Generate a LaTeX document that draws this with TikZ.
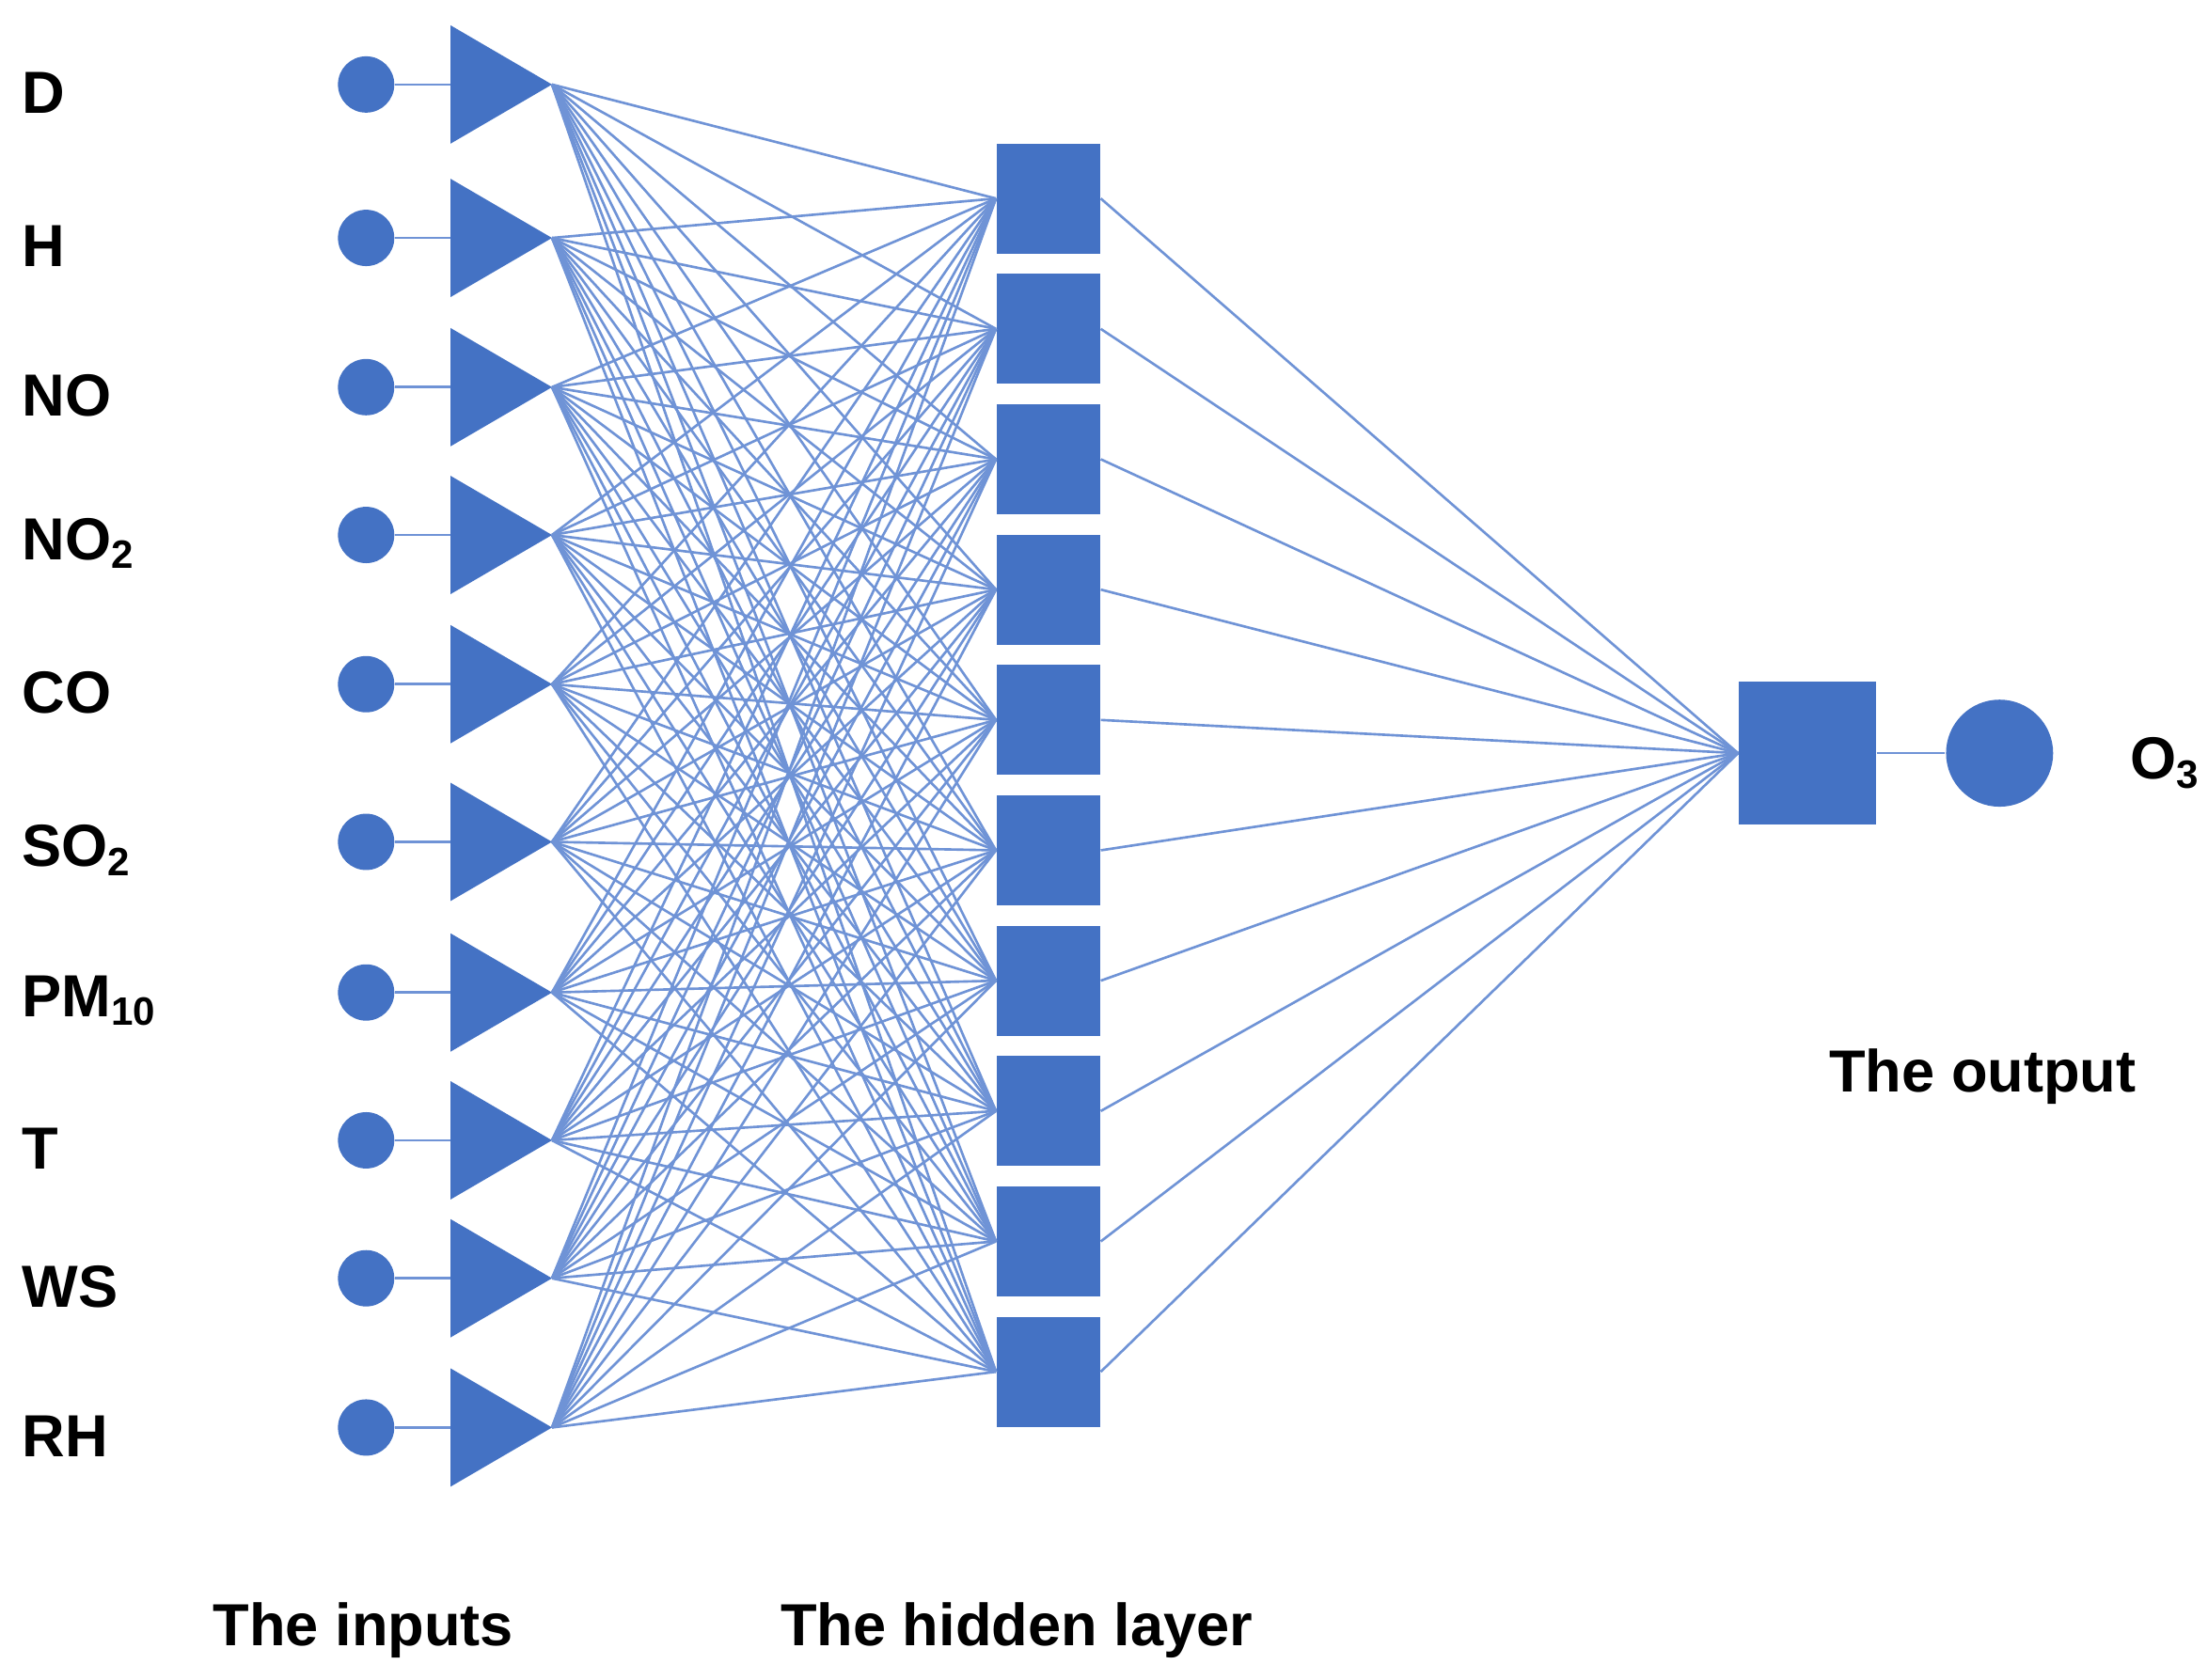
\documentclass[tikz,border=0pt]{standalone}
\usepackage{fontspec}
\setmainfont{Liberation Sans}
\usetikzlibrary{positioning}
\definecolor{netblue}{HTML}{4472C4}
\definecolor{wireblue}{HTML}{6F93D6}
\begin{document}
\begin{tikzpicture}[x=0.01cm,y=-0.01cm]
		\tikzstyle{inp}=[circle,minimum size=0.4cm,inner sep=0,fill=netblue]
		\tikzstyle{hid}=[rectangle,minimum width=0.73cm,minimum height=0.78cm,inner sep=0,fill=netblue]
		\tikzstyle{wire}=[wireblue,line width=0.5pt]
		\tikzstyle{lab}=[font=\bfseries\large,anchor=west,inner sep=0]
		\fill[white] (0,0) rectangle (1568,1193);
		
		\foreach \n/\y/\t in {1/66/D,2/175/H,3/281/NO,4/386/NO\textsubscript{2},5/492/CO,6/604/SO\textsubscript{2},7/711/PM\textsubscript{10},8/816/T,9/914/WS,10/1020/RH} {
			\node [lab] (l\n) at (15,\y) {\t};
			\node [inp] (i\n) at (260,\y-6) {};
			\coordinate (t\n) at (392,\y-6);
			\fill[netblue] (320,\y-48) -- (t\n) -- (320,\y+36) -- cycle;
			\draw [wire] (i\n) -- (320,\y-6);
		}
		\foreach \k in {1,...,10}
			\node [hid] (h\k) at (744.5,{141+92.6*(\k-1)}) {};
		\foreach \n in {1,...,10}
			\foreach \k in {1,...,10}
				\draw [wire] (t\n) -- (h\k.west);
		\node [hid,minimum width=0.97cm,minimum height=1.01cm] (out) at (1283.5,535) {};
		\node [inp,minimum size=0.76cm] (o) at (1420,535) {};
		\draw [wire] (out) -- (o);
		\foreach \k in {1,...,10}
			\draw [wire] (h\k.east) -- (out.west);
		\node [lab] (o3) at (1512,542) {O\textsubscript{3}};
		\node [font=\bfseries\large] (tout) at (1408,765) {The output};
		\node [font=\bfseries\large] (tin) at (258,1158) {The inputs};
		\node [font=\bfseries\large] (thid) at (722,1158) {The hidden layer};
\end{tikzpicture}
\end{document}
